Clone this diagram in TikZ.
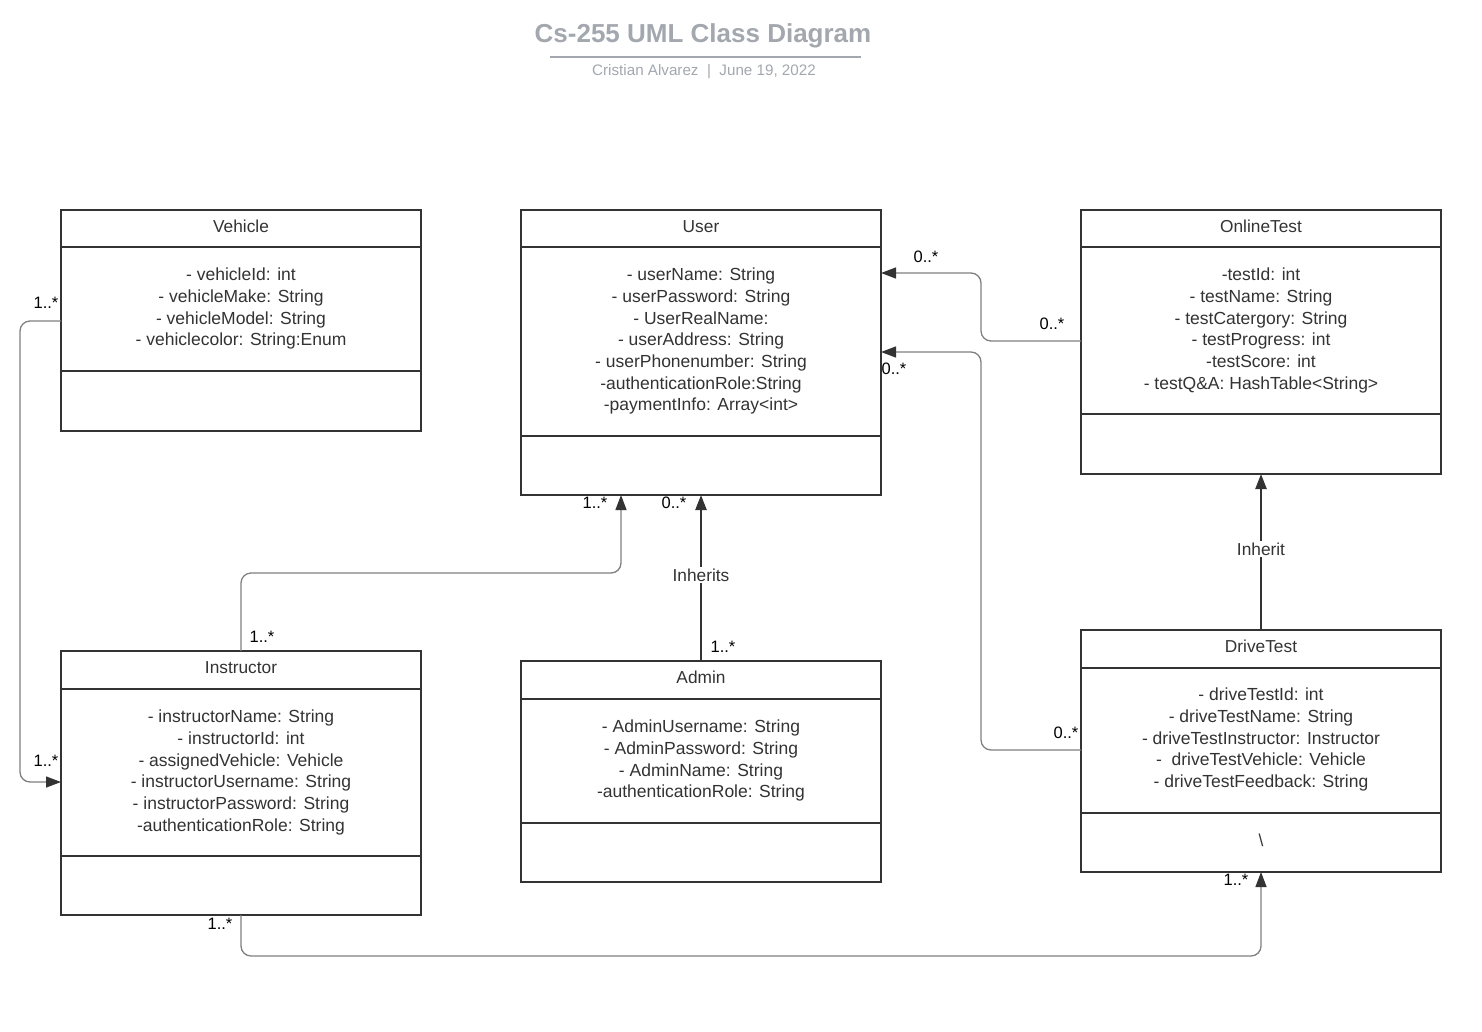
\documentclass[tikz,border=0pt]{standalone}
\usepackage{fontspec}
\setmainfont{Liberation Sans}
\usetikzlibrary{arrows.meta,calc}
\definecolor{ttl}{HTML}{A3A7AE}
\definecolor{ink}{HTML}{333333}
\definecolor{wire}{HTML}{7F7F7F}
\tikzset{
  classbox/.style={draw=ink,line width=2pt,fill=white,anchor=north west,inner sep=0pt,outer sep=0pt},
  divider/.style={draw=ink,line width=2pt},
  hdr/.style={text=ink,font=\fontsize{17.3}{20}\selectfont,inner sep=0pt},
  attrs/.style={text=ink,font=\fontsize{17.5}{21.67}\selectfont,align=center,inner sep=0pt,anchor=north},
  conn/.style={draw=wire,line width=1.3pt,rounded corners=10pt,-{Triangle[length=15pt,width=11pt,color=ink]}},
  inh/.style={draw=ink,line width=2.4pt,-{Triangle[length=15pt,width=11pt]}},
  mult/.style={text=black,font=\fontsize{16.5}{18}\selectfont,inner sep=0pt},
  lbl/.style={text=ink,font=\fontsize{17.3}{20}\selectfont,fill=white,inner sep=2pt}
}
\begin{document}
\begin{tikzpicture}[x=1pt,y=-1pt]
\useasboundingbox (0,0) rectangle (1482,1031);
% title
\node[text=ttl,font=\bfseries\fontsize{26}{30}\selectfont,inner sep=0pt] (title) at (703,36) {Cs-255 UML Class Diagram};
\draw[ttl,line width=2pt] (550,57) -- (861,57);
\node[text=ttl,font=\fontsize{15.2}{17}\selectfont,inner sep=0pt] (subtitle) at (704,72) {Cristian Alvarez\ \ |\ \ June 19, 2022};

% Vehicle
\node[classbox,minimum width=360pt,minimum height=221pt] (vehicle) at (61,210) {};
\draw[divider] (61,247) -- (421,247);
\draw[divider] (61,371) -- (421,371);
\node[hdr] (vehicle-t) at (241,226.5) {Vehicle};
\node[attrs] (vehicle-a) at (241,268) {- vehicleId: int\\- vehicleMake: String\\- vehicleModel: String\\- vehiclecolor: String:Enum};

% User
\node[classbox,minimum width=360pt,minimum height=285pt] (user) at (521,210) {};
\draw[divider] (521,247) -- (881,247);
\draw[divider] (521,436) -- (881,436);
\node[hdr] (user-t) at (701,226.5) {User};
\node[attrs] (user-a) at (701,268) {- userName: String\\- userPassword: String\\- UserRealName:\\- userAddress: String\\- userPhonenumber: String\\-authenticationRole:String\\-paymentInfo: Array<int>};

% OnlineTest
\node[classbox,minimum width=360pt,minimum height=264pt] (online) at (1081,210) {};
\draw[divider] (1081,247) -- (1441,247);
\draw[divider] (1081,414) -- (1441,414);
\node[hdr] (online-t) at (1261,226.5) {OnlineTest};
\node[attrs] (online-a) at (1261,268) {-testId: int\\- testName: String\\- testCatergory: String\\- testProgress: int\\-testScore: int\\- testQ\&A: HashTable<String>};

% Instructor
\node[classbox,minimum width=360pt,minimum height=264pt] (instr) at (61,651) {};
\draw[divider] (61,689) -- (421,689);
\draw[divider] (61,856) -- (421,856);
\node[hdr] (instr-t) at (241,667.5) {Instructor};
\node[attrs] (instr-a) at (241,710) {- instructorName: String\\- instructorId: int\\- assignedVehicle: Vehicle\\- instructorUsername: String\\- instructorPassword: String\\-authenticationRole: String};

% Admin
\node[classbox,minimum width=360pt,minimum height=221pt] (admin) at (521,661) {};
\draw[divider] (521,699) -- (881,699);
\draw[divider] (521,823) -- (881,823);
\node[hdr] (admin-t) at (701,677.5) {Admin};
\node[attrs] (admin-a) at (701,720) {- AdminUsername: String\\- AdminPassword: String\\- AdminName: String\\-authenticationRole: String};

% DriveTest
\node[classbox,minimum width=360pt,minimum height=242pt] (drive) at (1081,630) {};
\draw[divider] (1081,668) -- (1441,668);
\draw[divider] (1081,813) -- (1441,813);
\node[hdr] (drive-t) at (1261,646.5) {DriveTest};
\node[attrs] (drive-a) at (1261,688) {- driveTestId: int\\- driveTestName: String\\- driveTestInstructor: Instructor\\-\ \ driveTestVehicle: Vehicle\\- driveTestFeedback: String};
\node[hdr] (drive-m) at (1261,840) {\textbackslash};

% connectors
% Vehicle -> Instructor
\draw[conn] ($(vehicle.north west)+(0,111)$) -- (20,321) -- (20,782) -- ($(instr.north west)+(0,131)$);
\node[mult] (m1) at (46,303) {1..*};
\node[mult] (m2) at (46,761) {1..*};

% Instructor -> User
\draw[conn] (instr.north) -- (241,573) -- (621,573) -- ($(user.south)+(-80,0)$);
\node[mult] (m3) at (262,637) {1..*};
\node[mult] (m4) at (595,503) {1..*};

% Admin -> User (Inherits)
\draw[inh] (admin.north) -- (user.south);
\node[lbl] (inh1) at (701,575) {Inherits};
\node[mult] (m5) at (723,647) {1..*};
\node[mult] (m6) at (674,503) {0..*};

% OnlineTest -> User
\draw[conn] ($(online.north west)+(0,131)$) -- (981,341) -- (981,273) -- ($(user.north east)+(0,63)$);
\node[mult] (m7) at (926,257) {0..*};
\node[mult] (m8) at (1052,324) {0..*};

% DriveTest -> User
\draw[conn] ($(drive.north west)+(0,120)$) -- (981,750) -- (981,352) -- ($(user.north east)+(0,142)$);
\node[mult] (m9) at (894,369) {0..*};
\node[mult] (m10) at (1066,733) {0..*};

% DriveTest -> OnlineTest (Inherit)
\draw[inh] (drive.north) -- (online.south);
\node[lbl] (inh2) at (1261,549) {Inherit};

% Instructor -> DriveTest
\draw[conn] (instr.south) -- (241,956) -- (1261,956) -- (drive.south);
\node[mult] (m11) at (220,924) {1..*};
\node[mult] (m12) at (1236,880) {1..*};
\end{tikzpicture}
\end{document}
